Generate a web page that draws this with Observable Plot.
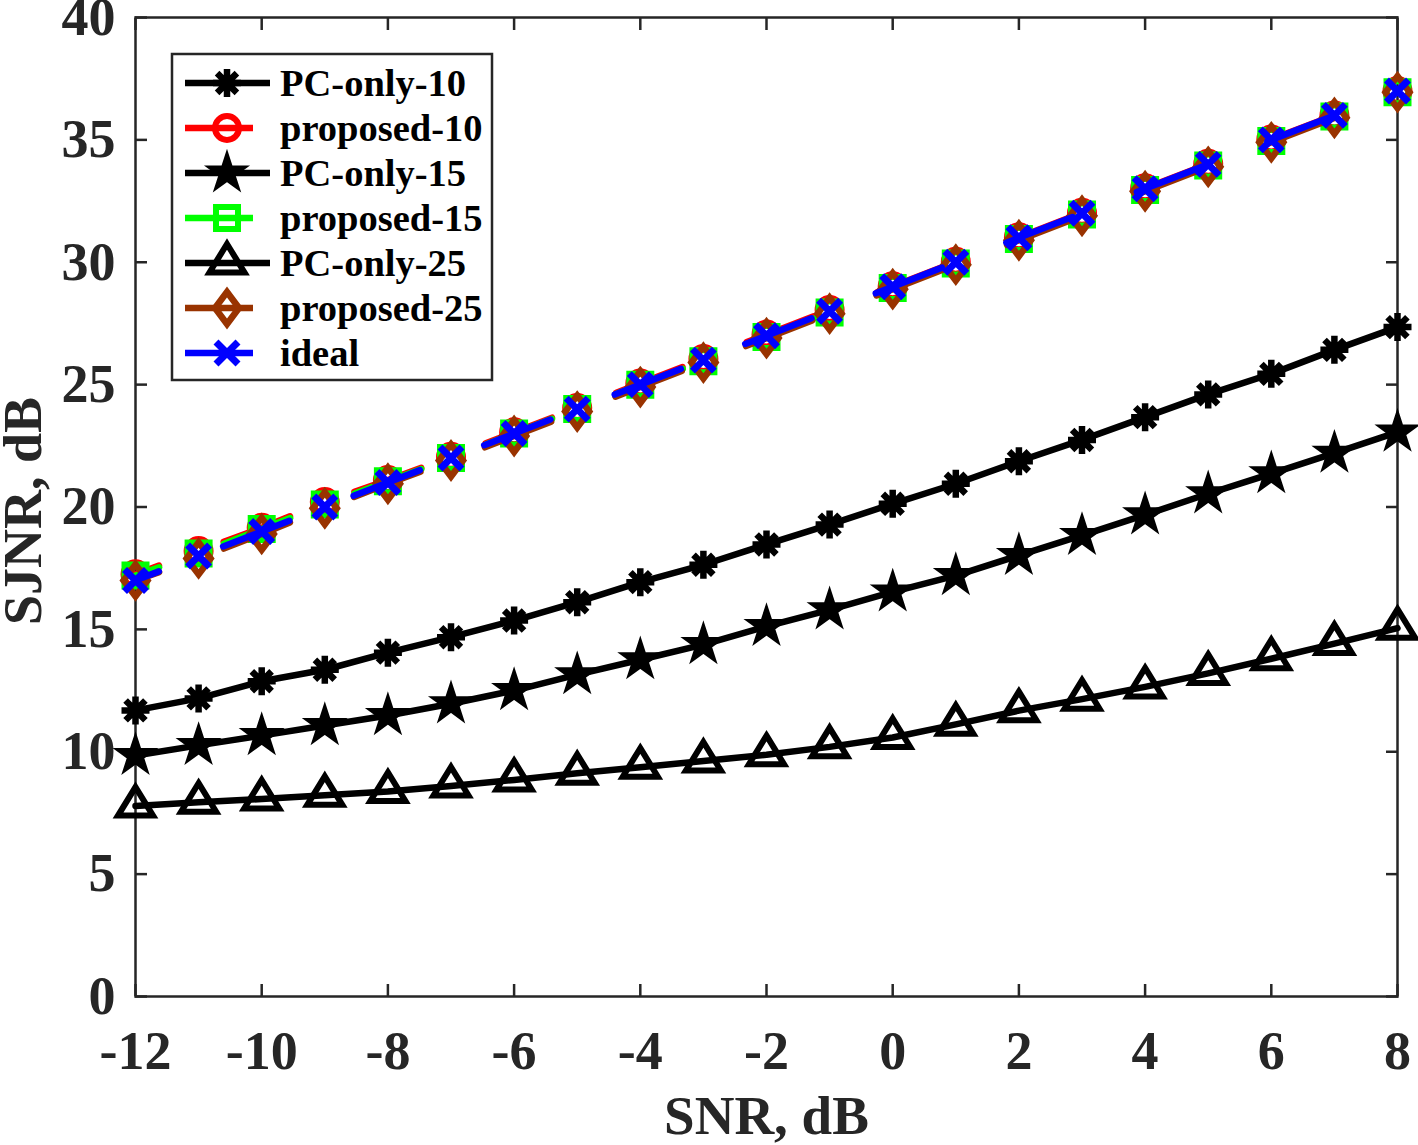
<!DOCTYPE html>
<html>
<head>
<meta charset="utf-8">
<script src="https://cdn.jsdelivr.net/npm/d3@7"></script>
<script src="https://cdn.jsdelivr.net/npm/@observablehq/plot@0.6"></script>
<style>
  html, body { margin: 0; padding: 0; background: #ffffff; }
  #chart { position: relative; width: 1418px; height: 1145px; }
</style>
</head>
<body>
<div id="chart"></div>
<script>
// ---------------- data ----------------
const snr = [-12, -11, -10, -9, -8, -7, -6, -5, -4, -3, -2, -1, 0, 1, 2, 3, 4, 5, 6, 7, 8];
const pcOnly10 = [11.69, 12.18, 12.88, 13.35, 14.05, 14.68, 15.36, 16.11, 16.93, 17.64, 18.47, 19.28, 20.13, 20.95, 21.87, 22.74, 23.67, 24.60, 25.44, 26.42, 27.35];
const proposed10 = [17.25, 18.2, 19.15, 20.2, 21.1, 22.05, 23.05, 24.05, 25.05, 26.05, 27.05, 28.05, 29.02, 30.02, 31.02, 32.02, 33.02, 34.02, 35.02, 36.0, 37.0];
const pcOnly15 = [9.85, 10.26, 10.66, 11.07, 11.48, 11.96, 12.50, 13.15, 13.76, 14.38, 15.12, 15.80, 16.53, 17.20, 18.02, 18.84, 19.68, 20.54, 21.36, 22.20, 23.06];
const proposed15 = [17.2, 18.1, 19.1, 20.1, 21.05, 22.0, 23.0, 24.0, 25.0, 25.95, 26.95, 27.95, 28.95, 29.95, 30.95, 31.95, 32.95, 33.95, 34.95, 35.95, 36.95];
const pcOnly25 = [7.78, 7.94, 8.07, 8.22, 8.38, 8.60, 8.85, 9.12, 9.37, 9.62, 9.88, 10.20, 10.58, 11.12, 11.68, 12.15, 12.65, 13.20, 13.80, 14.42, 15.05];
const proposed25 = [17.0, 17.9, 18.9, 19.95, 20.95, 21.9, 22.9, 23.9, 24.9, 25.9, 26.9, 27.9, 28.9, 29.9, 30.9, 31.9, 32.9, 33.9, 34.9, 35.9, 36.95];
const ideal = [17, 18, 19, 20, 21, 22, 23, 24, 25, 26, 27, 28, 29, 30, 31, 32, 33, 34, 35, 36, 37];
const seriesNames = ["PC-only-10", "proposed-10", "PC-only-15", "proposed-15", "PC-only-25", "proposed-25", "ideal"];
const seriesValues = [pcOnly10, proposed10, pcOnly15, proposed15, pcOnly25, proposed25, ideal];
const xTicks = [-12, -10, -8, -6, -4, -2, 0, 2, 4, 6, 8];
const yTicks = [0, 5, 10, 15, 20, 25, 30, 35, 40];
const xLabel = "SNR, dB";
const yLabel = "SJNR, dB";

// ---------------- marker shapes (MATLAB-like) ----------------
const sym = {
  asterisk: { draw(c) { const r = 14, d = r * 0.7071;
    c.moveTo(-r, 0); c.lineTo(r, 0); c.moveTo(0, -r); c.lineTo(0, r);
    c.moveTo(-d, -d); c.lineTo(d, d); c.moveTo(-d, d); c.lineTo(d, -d); } },
  circle: { draw(c) { const r = 12; c.moveTo(r, 0); c.arc(0, 0, r, 0, 2 * Math.PI); c.closePath(); } },
  star: { draw(c) { const R = 21, ri = R * 0.382;
    for (let i = 0; i < 10; i++) { const a = -Math.PI / 2 + i * Math.PI / 5, rr = i % 2 ? ri : R;
      const px = rr * Math.cos(a), py = rr * Math.sin(a); if (i) c.lineTo(px, py); else c.moveTo(px, py); }
    c.closePath(); } },
  square: { draw(c) { const s = 11; c.moveTo(-s, -s); c.lineTo(s, -s); c.lineTo(s, s); c.lineTo(-s, s); c.closePath(); } },
  triangle: { draw(c) { c.moveTo(0, -19); c.lineTo(17.5, 9.5); c.lineTo(-17.5, 9.5); c.closePath(); } },
  diamond: { draw(c) { c.moveTo(0, -16); c.lineTo(12, 0); c.lineTo(0, 16); c.lineTo(-12, 0); c.closePath(); } },
  times: { draw(c) { const d = 11; c.moveTo(-d, -d); c.lineTo(d, d); c.moveTo(-d, d); c.lineTo(d, -d); } }
};

const dash = "71,69";
const styles = [
  { color: "#000000", dash: null, symbol: sym.asterisk, fill: "none", sw: 6.5 },
  { color: "#ff0000", dash: dash, symbol: sym.circle, fill: "none", sw: 6 },
  { color: "#000000", dash: null, symbol: sym.star, fill: "#000000", sw: 2 },
  { color: "#00ff00", dash: dash, symbol: sym.square, fill: "none", sw: 6 },
  { color: "#000000", dash: null, symbol: sym.triangle, fill: "none", sw: 6 },
  { color: "#993300", dash: dash, symbol: sym.diamond, fill: "none", sw: 6.5 },
  { color: "#0000ff", dash: dash, symbol: sym.times, fill: "none", sw: 7 }
];
const lineWidth = 6.5;

const series = seriesNames.map((name, i) => ({
  name, ...styles[i],
  data: snr.map((x, j) => ({ x, y: seriesValues[i][j] }))
}));

// ---------------- chart ----------------
const axisColor = "#262626";
const fmt = d => String(d);
const marks = [
  Plot.frame({ stroke: axisColor, strokeWidth: 2.5 }),
  Plot.axisX({ ticks: xTicks, anchor: "bottom", tickSize: -12, tickPadding: 46, tickFormat: fmt, label: null, stroke: axisColor, strokeWidth: 2.5, fill: axisColor }),
  Plot.axisX({ ticks: xTicks, anchor: "top", tickSize: -12, tickFormat: () => "", label: null, stroke: axisColor, strokeWidth: 2.5 }),
  Plot.axisY({ ticks: yTicks, anchor: "left", tickSize: -12, tickPadding: 32, tickFormat: fmt, label: null, stroke: axisColor, strokeWidth: 2.5, fill: axisColor }),
  Plot.axisY({ ticks: yTicks, anchor: "right", tickSize: -12, tickFormat: () => "", label: null, stroke: axisColor, strokeWidth: 2.5 }),
  Plot.text([xLabel], { text: d => d, frameAnchor: "bottom", dy: 120, lineAnchor: "middle", textAnchor: "middle", fontSize: 55, fill: axisColor }),
  Plot.text([yLabel], { text: d => d, frameAnchor: "left", dx: -112, dy: 4, rotate: -90, lineAnchor: "middle", textAnchor: "middle", fontSize: 54, fill: axisColor })
];
for (const s of series) {
  marks.push(Plot.line(s.data, { x: "x", y: "y", stroke: s.color, strokeWidth: lineWidth,
    strokeDasharray: s.dash || undefined, strokeDashoffset: s.dash ? 46 : undefined }));
  marks.push(Plot.dot(s.data, { x: "x", y: "y", symbol: s.symbol, r: 10, stroke: s.color, fill: s.fill, strokeWidth: s.sw }));
}

const svg = Plot.plot({
  width: 1418,
  height: 1145,
  marginLeft: 135,
  marginRight: 21,
  marginTop: 17,
  marginBottom: 149,
  x: { domain: [-12, 8] },
  y: { domain: [0, 40] },
  style: { fontFamily: "'Liberation Serif', 'Times New Roman', serif", fontWeight: "bold", fontSize: "54px", background: "#ffffff", color: axisColor },
  marks
});
document.getElementById("chart").append(svg);

// ---------------- legend ----------------
const lg = d3.select(svg).append("g").attr("class", "legend")
  .style("font-family", "'Liberation Serif', 'Times New Roman', serif").style("font-weight", "bold");
lg.append("rect").attr("x", 172).attr("y", 54).attr("width", 320).attr("height", 326)
  .attr("fill", "#ffffff").attr("stroke", axisColor).attr("stroke-width", 2.5);
series.forEach((s, i) => {
  const cy = 83 + i * 45;
  const row = lg.append("g").attr("transform", `translate(0,${cy})`);
  row.append("line").attr("x1", 185).attr("x2", s.dash ? 253 : 270).attr("y1", 0).attr("y2", 0)
    .attr("stroke", s.color).attr("stroke-width", lineWidth);
  row.append("path").attr("d", d3.symbol(s.symbol, 100)()).attr("transform", "translate(227,0)")
    .attr("fill", s.fill).attr("stroke", s.color).attr("stroke-width", s.sw);
  row.append("text").attr("x", 280).attr("y", 0).attr("dy", "0.34em")
    .attr("text-anchor", "start").attr("font-size", 38.5).attr("fill", "#000000").text(s.name);
});
</script>
</body>
</html>
